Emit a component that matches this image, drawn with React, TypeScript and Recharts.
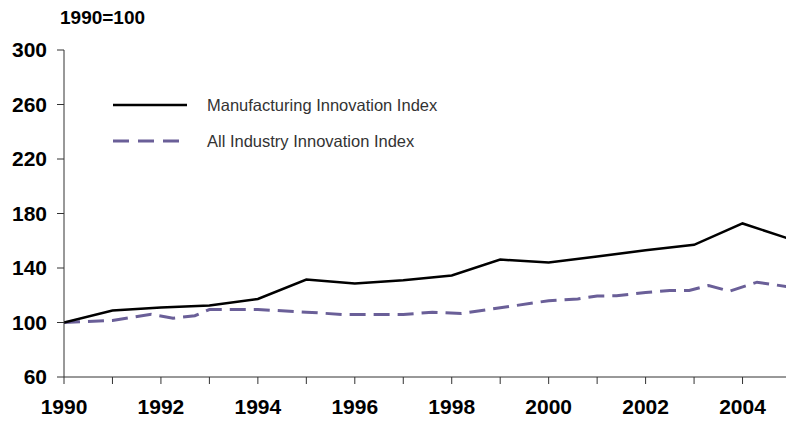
import { LineChart, Line, XAxis, YAxis } from 'recharts';

const years = [1990, 1991, 1992, 1993, 1994, 1995, 1996, 1997, 1998, 1999, 2000, 2001, 2002, 2003, 2004, 2005];
const manufacturing = [100, 108.8, 111, 112.5, 117.3, 131.5, 128.6, 131, 134.5, 146.2, 144, 148.4, 153, 157, 172.7, 161];

const allIndustryYears = [
    1990, 1991, 1991.8, 1992.25, 1992.7, 1993, 1994, 1995, 1995.75, 1997, 1997.6, 1998.2,
    2000, 2000.6, 2001, 2001.4, 2002, 2002.5, 2002.9, 2003.3, 2003.73, 2004.3, 2005,
];
const allIndustry = [
    100, 101.5, 106, 103.2, 105, 109.5, 109.5, 107.6, 105.9, 105.9, 107.5, 106.6,
    116, 117.3, 119.5, 119.6, 122, 123.5, 123.5, 127.2, 123, 129.6, 125.9,
];

const yTicks = [60, 100, 140, 180, 220, 260, 300];

const manufacturingData = years.map((year, i) => ({ year, value: manufacturing[i] }));
const allIndustryData = allIndustryYears.map((year, i) => ({ year, value: allIndustry[i] }));

const PURPLE = '#6a5f98';
const FONT = '"Liberation Sans", Arial, sans-serif';

const tickStyle = { fill: '#000', fontSize: 21, fontWeight: 700, fontFamily: FONT };

export default function App() {
    return (
        <div style={{ position: 'absolute', left: 0, top: 0, width: 786, height: 423, overflow: 'hidden', background: '#fff', fontFamily: FONT }}>
            <div style={{ position: 'absolute', left: 60, top: 7, fontSize: 19, fontWeight: 700, color: '#000' }}>1990=100</div>
            <LineChart width={800} height={423} margin={{ top: 50, right: 9, left: 0, bottom: 0 }}>
                <XAxis
                    dataKey="year"
                    type="number"
                    domain={[1990, 2005]}
                    ticks={years}
                    interval={0}
                    allowDataOverflow
                    tickFormatter={(v: number) => (v % 2 === 0 ? String(v) : '')}
                    tick={tickStyle}
                    tickSize={7}
                    tickMargin={15}
                    stroke="#333"
                    height={46}
                />
                <YAxis
                    type="number"
                    domain={[60, 300]}
                    ticks={yTicks}
                    interval={0}
                    tick={tickStyle}
                    tickSize={7}
                    tickMargin={10}
                    stroke="#333"
                    width={64}
                />
                <Line
                    data={allIndustryData}
                    dataKey="value"
                    type="linear"
                    stroke={PURPLE}
                    strokeWidth={3}
                    strokeDasharray="16 8"
                    dot={false}
                    isAnimationActive={false}
                />
                <Line
                    data={manufacturingData}
                    dataKey="value"
                    type="linear"
                    stroke="#000"
                    strokeWidth={2.5}
                    dot={false}
                    isAnimationActive={false}
                />
            </LineChart>
            <div style={{ position: 'absolute', left: 113, top: 94, fontSize: 16.5, color: '#333' }}>
                <div style={{ display: 'flex', alignItems: 'center', height: 22 }}>
                    <svg width={74} height={6}><line x1={0} y1={3} x2={74} y2={3} stroke="#000" strokeWidth={2.5} /></svg>
                    <span style={{ marginLeft: 20 }}>Manufacturing Innovation Index</span>
                </div>
                <div style={{ display: 'flex', alignItems: 'center', height: 22, marginTop: 14 }}>
                    <svg width={74} height={6}><line x1={0} y1={3} x2={70} y2={3} stroke={PURPLE} strokeWidth={3} strokeDasharray="16 9" /></svg>
                    <span style={{ marginLeft: 20 }}>All Industry Innovation Index</span>
                </div>
            </div>
        </div>
    );
}
